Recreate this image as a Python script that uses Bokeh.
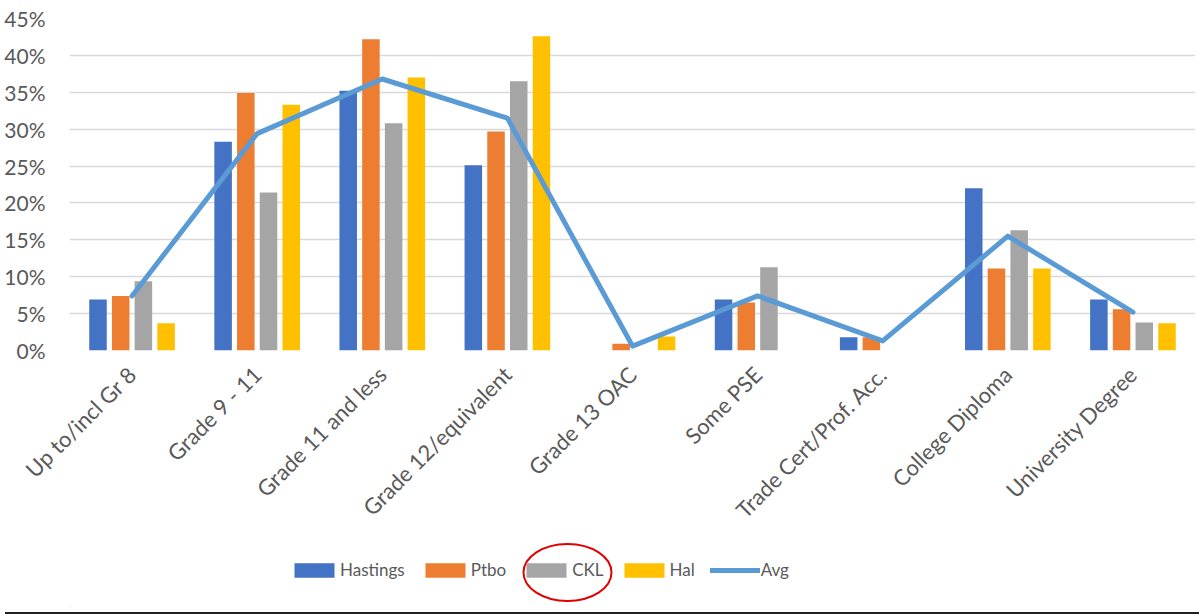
import math
from bokeh.plotting import figure
from bokeh.layouts import column
from bokeh.models import (ColumnDataSource, FixedTicker, PrintfTickFormatter, Legend,
                          LegendItem, Div)
from bokeh.transform import dodge
from bokeh.embed import file_html
from bokeh.resources import INLINE

categories = ["Up to/incl Gr 8", "Grade 9 - 11", "Grade 11 and less", "Grade 12/equivalent",
              "Grade 13 OAC", "Some PSE", "Trade Cert/Prof. Acc.", "College Diploma",
              "University Degree"]
hastings = [6.9, 28.3, 35.2, 25.1, 0.0, 6.9, 1.8, 22.0, 6.9]
ptbo = [7.4, 34.9, 42.2, 29.7, 0.9, 6.5, 1.8, 11.1, 5.6]
ckl = [9.4, 21.4, 30.8, 36.5, 0.0, 11.3, 0.0, 16.3, 3.8]
hal = [3.7, 33.3, 37.0, 42.6, 1.9, 0.0, 0.0, 11.1, 3.7]
avg = [7.4, 29.4, 36.8, 31.5, 0.6, 7.4, 1.3, 15.5, 5.2]
y_ticks = [0, 5, 10, 15, 20, 25, 30, 35, 40, 45]

series_names = ["Hastings", "Ptbo", "CKL", "Hal"]
series_keys = ["hastings", "ptbo", "ckl", "hal"]
colors = ["#4472C4", "#ED7D31", "#A5A5A5", "#FFC000"]
avg_color = "#5B9BD5"
FONT = "Lato"
TXT = "#595959"

src = ColumnDataSource(dict(cat=categories, hastings=hastings, ptbo=ptbo, ckl=ckl,
                            hal=hal, avg=avg))

W = 1195
H1 = 555
OVERLAP = 15
H2 = 67
FL, FR = 69, 1195  # frame left/right on the page

p = figure(x_range=categories, y_range=(0, 45), width=W, height=H1,
           output_backend="svg", toolbar_location=None,
           min_border_left=FL, min_border_right=W - FR, min_border_top=18,
           min_border_bottom=H1 - 18 - 332)
p.outline_line_color = None

step = 0.1815
bw = 0.14
for i, (k, c) in enumerate(zip(series_keys, colors)):
    off = (i - 1.5) * step
    p.vbar(x=dodge("cat", off, range=p.x_range), top=k, bottom=0, width=bw,
           source=src, fill_color=c, line_color=None)

p.line(x="cat", y="avg", source=src, line_color=avg_color, line_width=5,
       line_join="round", line_cap="round")

p.yaxis.ticker = FixedTicker(ticks=y_ticks)
p.yaxis.formatter = PrintfTickFormatter(format="%d%%")
p.yaxis.axis_line_color = None
p.yaxis.major_tick_line_color = None
p.yaxis.minor_tick_line_color = None
p.yaxis.major_label_standoff = 18
p.yaxis.major_label_text_font = FONT
p.yaxis.major_label_text_font_size = "21px"
p.yaxis.major_label_text_color = TXT

p.xaxis.axis_line_color = None
p.xaxis.major_tick_line_color = None
p.xaxis.major_label_orientation = math.pi / 4
p.xaxis.major_label_standoff = 14
p.xaxis.major_label_text_font = FONT
p.xaxis.major_label_text_font_size = "22px"
p.xaxis.major_label_text_color = TXT

p.xgrid.grid_line_color = None
p.ygrid.grid_line_color = "#D9D9D9"
p.ygrid.grid_line_width = 1.5

# legend strip (frame aligned with the chart frame), pulled up a little
q = figure(width=W, height=H2, x_range=(FL, FR), y_range=(0, H2),
           output_backend="svg", toolbar_location=None,
           x_axis_location=None, y_axis_location=None,
           min_border_left=FL, min_border_right=W - FR, min_border_top=0,
           min_border_bottom=0, margin=(-OVERLAP, 0, 0, 0))
q.outline_line_color = None
q.grid.grid_line_color = None
q.background_fill_alpha = 0
q.border_fill_alpha = 0

leg_r = []
for c in colors:
    leg_r.append(q.vbar(x=[-5000], top=[1], bottom=[0], width=1, fill_color=c,
                        line_color=None))
leg_r.append(q.line(x=[-5000, -4999], y=[0, 0], line_color=avg_color, line_width=5,
                    line_cap="round"))

items = [LegendItem(label=n, renderers=[r]) for n, r in zip(series_names + ["Avg"], leg_r)]
legend = Legend(items=items, orientation="horizontal", location=(220, 27),
                glyph_width=50, glyph_height=18, label_standoff=1, spacing=15,
                label_text_font=FONT, label_text_font_size="17px",
                label_text_color=TXT, border_line_color=None,
                background_fill_alpha=0, padding=0, margin=0)
q.add_layout(legend, "center")

# red ellipse highlighting CKL
q.ellipse(x=[567], y=[35], width=88, height=57, fill_alpha=0,
          line_color="#E00000", line_width=2)

rule = Div(width=1199, height=3, styles={"background-color": "#222222"})

layout = column(p, q, rule, spacing=0)
open("out.html", "w").write(file_html(layout, INLINE))
